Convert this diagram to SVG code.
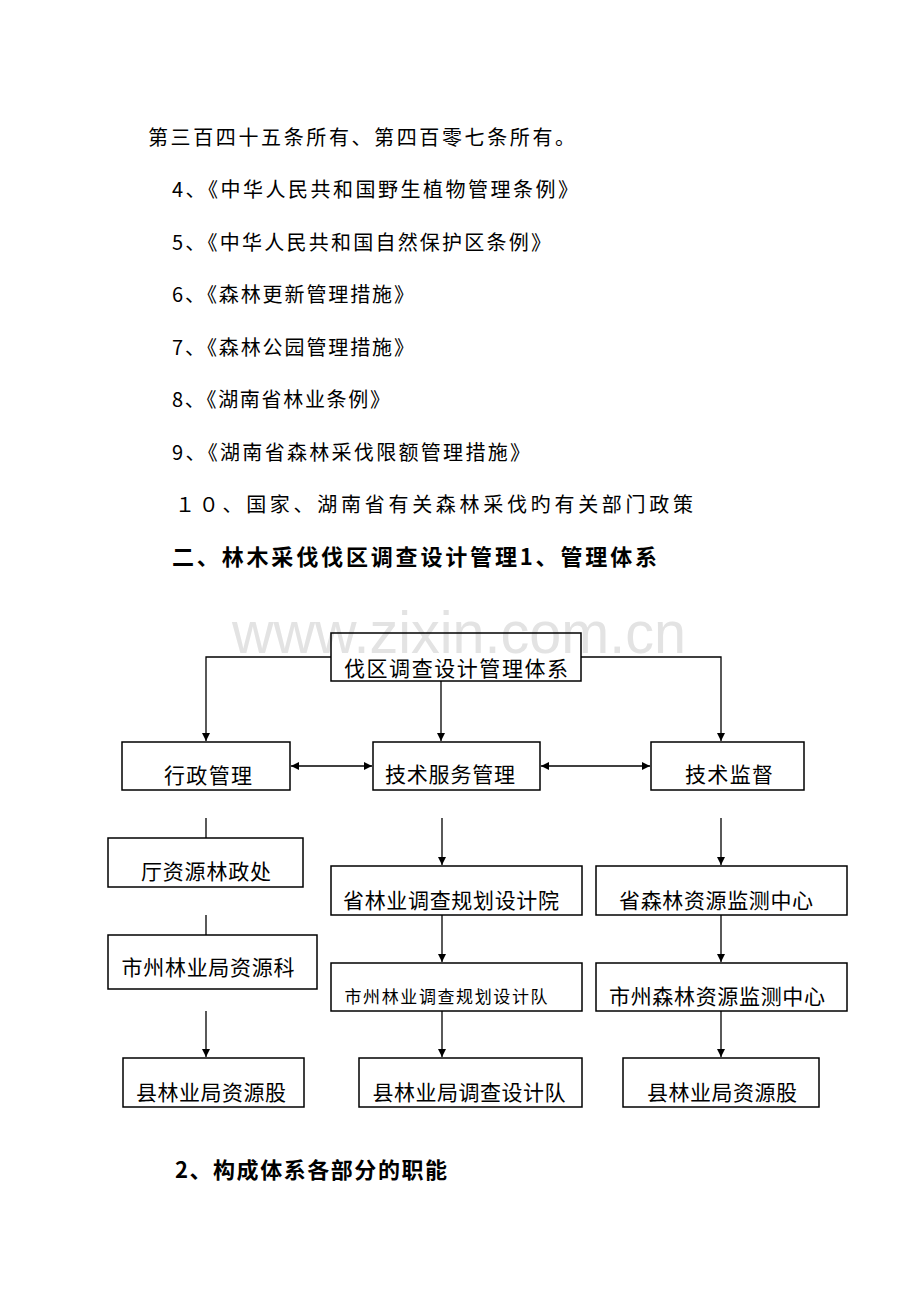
<svg xmlns="http://www.w3.org/2000/svg" width="920" height="1302" viewBox="0 0 920 1302">
<style>
.p{font-family:"Noto Sans CJK SC","Liberation Serif",serif;font-size:20px;fill:#000}
.h{font-family:"Noto Sans CJK SC","Liberation Sans",sans-serif;font-size:22px;font-weight:bold;fill:#000}
.t{font-family:"Noto Sans CJK SC","Liberation Sans",sans-serif;font-size:21px;fill:#000;text-anchor:middle}
.s{font-size:17px}
.b{fill:#fff;stroke:#000;stroke-width:1.5}
.c{fill:none;stroke:#000;stroke-width:1.3}
.wm{font-family:"Liberation Sans",Arial,sans-serif;font-size:60px;fill:#e3e3e3}
</style>
<defs>
<marker id="ah" viewBox="0 0 10 10" refX="10" refY="5" markerWidth="8" markerHeight="8" markerUnits="userSpaceOnUse" orient="auto-start-reverse">
<path d="M0,0 L10,5 L0,10 z" fill="#000"/>
</marker>
</defs>
<rect width="920" height="1302" fill="#fff"/>
<g id="text">
<text class="p" x="148" y="145" textLength="427" lengthAdjust="spacing">第三百四十五条所有、第四百零七条所有。</text>
<text class="p" x="172" y="197" textLength="406" lengthAdjust="spacing">4、《中华人民共和国野生植物管理条例》</text>
<text class="p" x="172" y="250" textLength="379" lengthAdjust="spacing">5、《中华人民共和国自然保护区条例》</text>
<text class="p" x="172" y="302" textLength="242" lengthAdjust="spacing">6、《森林更新管理措施》</text>
<text class="p" x="172" y="355" textLength="242" lengthAdjust="spacing">7、《森林公园管理措施》</text>
<text class="p" x="172" y="407" textLength="218" lengthAdjust="spacing">8、《湖南省林业条例》</text>
<text class="p" x="172" y="460" textLength="358" lengthAdjust="spacing">9、《湖南省森林采伐限额管理措施》</text>
<text class="p" x="175" y="512" textLength="518" lengthAdjust="spacing">１０、国家、湖南省有关森林采伐旳有关部门政策</text>
<text class="h" x="172" y="565" textLength="485" lengthAdjust="spacing">二、林木采伐伐区调查设计管理1、管理体系</text>
<text class="h" x="175" y="1178" textLength="272" lengthAdjust="spacing">2、构成体系各部分的职能</text>
</g>
<text class="wm" x="232" y="653" textLength="454" lengthAdjust="spacingAndGlyphs">www.zixin.com.cn</text>
<g id="connectors">
<path class="c" d="M331,657 H206 V741" marker-end="url(#ah)"/>
<path class="c" d="M441,681 V741" marker-end="url(#ah)"/>
<path class="c" d="M581,657 H721 V741" marker-end="url(#ah)"/>
<path class="c" d="M291,766 H372" marker-start="url(#ah)" marker-end="url(#ah)"/>
<path class="c" d="M541,766 H650" marker-start="url(#ah)" marker-end="url(#ah)"/>
<path class="c" d="M206,818 V838"/>
<path class="c" d="M206,915 V935"/>
<path class="c" d="M206,1011 V1057" marker-end="url(#ah)"/>
<path class="c" d="M442,818 V865" marker-end="url(#ah)"/>
<path class="c" d="M442,915 V962" marker-end="url(#ah)"/>
<path class="c" d="M442,1011 V1057" marker-end="url(#ah)"/>
<path class="c" d="M721,818 V865" marker-end="url(#ah)"/>
<path class="c" d="M721,915 V962" marker-end="url(#ah)"/>
<path class="c" d="M721,1011 V1057" marker-end="url(#ah)"/>
</g>
<g id="n-root"><rect x="331" y="633" width="250" height="48" fill="none" stroke="#000" stroke-width="1.5"/><text class="t" x="456" y="676" textLength="224" lengthAdjust="spacing">伐区调查设计管理体系</text></g>
<g id="n-admin"><rect class="b" x="122" y="742" width="168" height="48"/><text class="t" x="208" y="783" textLength="88" lengthAdjust="spacing">行政管理</text></g>
<g id="n-tech"><rect class="b" x="373" y="742" width="167" height="48"/><text class="t" x="450" y="782" textLength="130" lengthAdjust="spacing">技术服务管理</text></g>
<g id="n-sup"><rect class="b" x="651" y="742" width="153" height="48"/><text class="t" x="729" y="782" textLength="88" lengthAdjust="spacing">技术监督</text></g>
<g id="n-a1"><rect class="b" x="108" y="838" width="195" height="49"/><text class="t" x="206" y="879" textLength="130" lengthAdjust="spacing">厅资源林政处</text></g>
<g id="n-a2"><rect class="b" x="108" y="935" width="209" height="54"/><text class="t" x="208" y="975" textLength="173" lengthAdjust="spacing">市州林业局资源科</text></g>
<g id="n-a3"><rect class="b" x="123" y="1058" width="181" height="49"/><text class="t" x="211" y="1100" textLength="150" lengthAdjust="spacing">县林业局资源股</text></g>
<g id="n-t1"><rect class="b" x="331" y="866" width="251" height="49"/><text class="t" x="451" y="908" textLength="216" lengthAdjust="spacing">省林业调查规划设计院</text></g>
<g id="n-t2"><rect class="b" x="331" y="963" width="251" height="48"/><text class="t s" x="446" y="1003" textLength="203" lengthAdjust="spacing">市州林业调查规划设计队</text></g>
<g id="n-t3"><rect class="b" x="359" y="1058" width="223" height="49"/><text class="t" x="469" y="1100" textLength="193" lengthAdjust="spacing">县林业局调查设计队</text></g>
<g id="n-s1"><rect class="b" x="596" y="866" width="251" height="49"/><text class="t" x="716" y="908" textLength="194" lengthAdjust="spacing">省森林资源监测中心</text></g>
<g id="n-s2"><rect class="b" x="596" y="963" width="251" height="48"/><text class="t" x="717" y="1004" textLength="216" lengthAdjust="spacing">市州森林资源监测中心</text></g>
<g id="n-s3"><rect class="b" x="623" y="1058" width="196" height="49"/><text class="t" x="722" y="1100" textLength="150" lengthAdjust="spacing">县林业局资源股</text></g>
</svg>
